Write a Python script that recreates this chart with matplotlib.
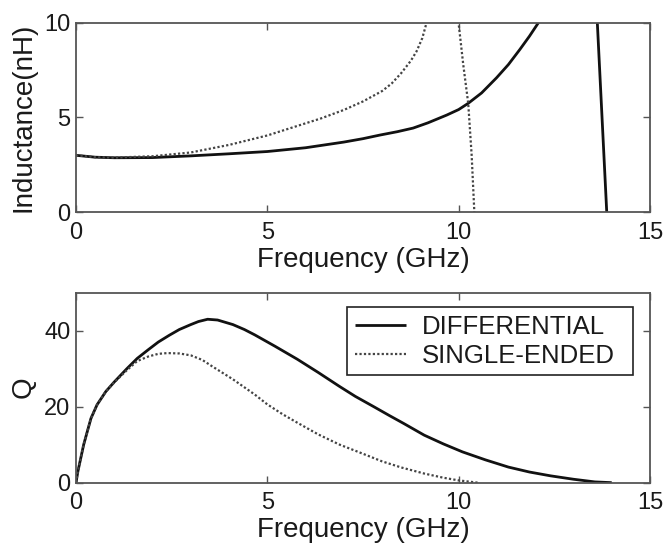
import matplotlib
matplotlib.use("Agg")
import matplotlib.pyplot as plt

plt.rcParams['font.family'] = ['Liberation Sans', 'DejaVu Sans']

# Inductance vs frequency (GHz, nH); values above 10 run off the top of the axes
freq_l_diff = [0.0, 0.5, 1.0, 2.0, 3.0, 4.0, 5.0, 6.0, 7.0, 7.5, 7.94, 8.4, 8.81, 9.2,
               9.69, 10.0, 10.25, 10.6, 10.99, 11.3, 11.6, 11.85, 12.08, 12.3, 12.8,
               13.3, 13.6, 13.87]
ind_diff = [3.0, 2.9, 2.87, 2.88, 2.97, 3.08, 3.2, 3.4, 3.7, 3.88, 4.07, 4.25, 4.44,
            4.72, 5.13, 5.42, 5.75, 6.3, 7.1, 7.8, 8.6, 9.3, 10.0, 11.0, 14.0,
            16.0, 11.0, 0.0]

freq_l_se = [0.0, 0.5, 1.0, 2.0, 3.0, 4.0, 5.0, 5.7, 6.4, 7.0, 7.5, 8.0, 8.25, 8.5,
             8.75, 8.9, 9.05, 9.16, 9.4, 9.8, 9.97, 10.12, 10.25, 10.34, 10.41]
ind_se = [3.0, 2.9, 2.88, 2.95, 3.15, 3.55, 4.05, 4.5, 4.95, 5.4, 5.85, 6.4, 6.8,
          7.35, 8.0, 8.5, 9.2, 10.0, 13.0, 13.0, 10.5, 7.8, 5.75, 3.0, 0.0]

# Quality factor vs frequency
freq_q_diff = [0.0, 0.05, 0.2, 0.39, 0.55, 0.78, 1.0, 1.33, 1.6, 1.89, 2.15, 2.44,
               2.7, 3.0, 3.2, 3.44, 3.7, 4.1, 4.4, 4.67, 5.2, 5.78, 6.33, 6.89, 7.3,
               7.78, 8.2, 8.56, 9.1, 9.6, 10.1, 10.7, 11.3, 11.85, 12.4, 13.0, 13.56,
               14.0]
q_diff = [0.0, 3.0, 10.0, 16.9, 20.5, 24.0, 26.5, 30.0, 32.7, 35.0, 37.0, 38.8,
          40.3, 41.6, 42.4, 43.0, 42.8, 41.6, 40.3, 38.9, 35.9, 32.5, 29.0, 25.3,
          22.7, 20.0, 17.6, 15.6, 12.5, 10.2, 8.1, 6.0, 4.1, 2.8, 1.8, 0.9, 0.2, 0.0]

freq_q_se = [0.0, 0.05, 0.2, 0.39, 0.55, 0.78, 1.0, 1.33, 1.6, 1.89, 2.15, 2.39,
             2.7, 3.0, 3.3, 3.56, 4.1, 4.67, 5.0, 5.4, 5.78, 6.33, 6.89, 7.4, 8.0,
             8.5, 9.1, 9.6, 10.0, 10.5]
q_se = [0.0, 3.0, 10.0, 16.9, 20.5, 24.0, 26.4, 29.6, 32.0, 33.2, 33.9, 34.1,
        34.0, 33.5, 32.3, 30.6, 27.2, 23.2, 20.6, 18.0, 15.8, 12.7, 10.0, 8.0, 5.6,
        4.0, 2.4, 1.3, 0.6, 0.0]

x_ticks = [0, 5, 10, 15]
l_ticks = [0, 5, 10]
q_ticks = [0, 20, 40]

text_color = '#1a1a1a'
frame_color = '#555555'
solid_kw = dict(color='#111111', lw=2.0, solid_capstyle='butt', solid_joinstyle='round')
dot_kw = dict(color='#444444', lw=1.6, linestyle=(0, (1, 1)))

fig = plt.figure(figsize=(6.65, 5.46), dpi=100)
ax1 = fig.add_axes([0.1143, 0.6117, 0.8631, 0.3462])
ax2 = fig.add_axes([0.1143, 0.1160, 0.8631, 0.3480])


def style(ax, yticks, ylabel):
    ax.set_xlim(0, 15)
    ax.set_xticks(x_ticks)
    ax.set_yticks(yticks)
    ax.tick_params(direction='in', top=True, right=True, length=5, width=1.0,
                   color=frame_color, labelsize=17, labelcolor=text_color)
    ax.tick_params(axis='x', pad=7)
    ax.tick_params(axis='y', pad=4)
    for s in ax.spines.values():
        s.set_color(frame_color)
        s.set_linewidth(1.3)
    ax.set_xlabel('Frequency (GHz)', fontsize=20, color=text_color, labelpad=2)
    ax.set_ylabel(ylabel, fontsize=20, color=text_color)
    ax.yaxis.set_label_coords(-0.068, 0.5)


ax1.plot(freq_l_diff, ind_diff, **solid_kw)
ax1.plot(freq_l_se, ind_se, **dot_kw)
ax1.set_ylim(0, 10)
style(ax1, l_ticks, 'Inductance(nH)')

ax2.plot(freq_q_diff, q_diff, label='DIFFERENTIAL', **solid_kw)
ax2.plot(freq_q_se, q_se, label='SINGLE-ENDED', **dot_kw)
ax2.set_ylim(0, 50)
style(ax2, q_ticks, 'Q')

leg = ax2.legend(loc='upper left', bbox_to_anchor=(0.472, 0.0, 0.498, 0.925),
                 mode='expand', borderaxespad=0, fontsize=18.5, fancybox=False,
                 framealpha=1, edgecolor='#222222', handlelength=2.0,
                 handletextpad=0.6, labelspacing=0.2, borderpad=0.3)
leg.get_frame().set_linewidth(1.2)
for t in leg.get_texts():
    t.set_color(text_color)

fig.savefig('out.png', dpi=100)
